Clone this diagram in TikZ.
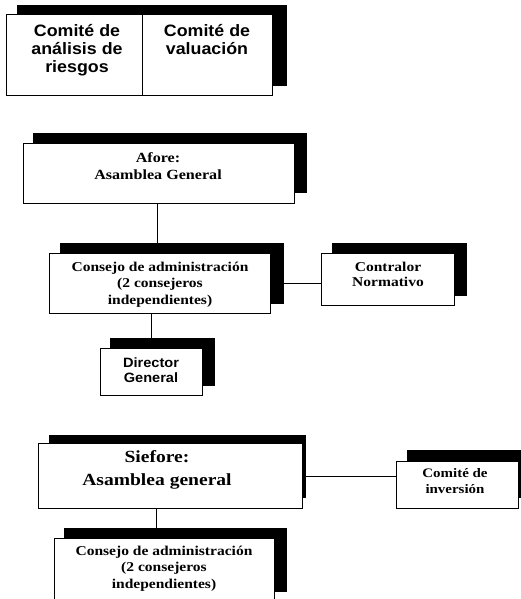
\documentclass[tikz,border=0pt]{standalone}
\usepackage{fontspec}
\setmainfont{Liberation Serif}
\newfontfamily\romanbold[FakeStretch=1.15]{Liberation Serif}
\newfontfamily\grotesk[FakeStretch=1.08]{Liberation Sans}
\usetikzlibrary{calc}
% centred block of lines whose reference point is the first baseline
\newcommand\stacklines[1]{\begin{tabular}[t]{@{}c@{}}#1\end{tabular}}
\newcommand\orgshadow[4]{\fill[black] (#1,#2) rectangle (#3,#4);}
\tikzset{
  orgbox/.style={draw=black, line width=0.8pt, fill=white, inner sep=0pt,
    anchor=north west},
  orgtext/.style={inner sep=0pt, anchor=base, text=black},
  link/.style={draw=black, line width=0.8pt},
  sanslabel/.style={orgtext, font=\grotesk\bfseries\fontsize{#1}{#1}\selectfont},
  seriflabel/.style={orgtext, font=\romanbold\bfseries\fontsize{#1}{#1}\selectfont},
}
\begin{document}
\begin{tikzpicture}[x=1pt, y=-1pt]
\useasboundingbox (0,0) rectangle (520,599);
\fill[white] (0,0) rectangle (520,599);

% committees
\orgshadow{17}{5}{287}{86}
\node[orgbox, minimum width=136, minimum height=81] (riesgos) at (6,14) {};
\node[orgbox, minimum width=130, minimum height=81] (valuacion) at (142,14) {};
\node[sanslabel=16.5] (riesgosT) at (77,37)
  {\fontsize{16.5}{18}\selectfont\stacklines{Comité de\\análisis de\\riesgos}};
\node[sanslabel=16.5] (valuacionT) at (207,37)
  {\fontsize{16.5}{18}\selectfont\stacklines{Comité de\\valuación}};

% Afore
\orgshadow{33}{133}{307}{193}
\node[orgbox, minimum width=271, minimum height=60] (afore) at (23,143) {};
\node[seriflabel=14] (aforeT) at (158,162)
  {\fontsize{14}{17}\selectfont\stacklines{Afore:\\Asamblea General}};

\orgshadow{60}{243}{284}{304}
\node[orgbox, minimum width=221, minimum height=60] (consejoA) at (49,253) {};
\node[seriflabel=13.5] (consejoAT) at (160,271)
  {\fontsize{13.5}{16.5}\selectfont\stacklines{Consejo de administración\\(2 consejeros\\independientes)}};

\orgshadow{332}{243}{467}{296}
\node[orgbox, minimum width=133, minimum height=52] (contralor) at (321,253) {};
\node[seriflabel=13.5] (contralorT) at (388,271)
  {\fontsize{13.5}{15}\selectfont\stacklines{Contralor\\Normativo}};

\orgshadow{110}{338}{215}{386}
\node[orgbox, minimum width=102, minimum height=47] (director) at (100,348) {};
\node[sanslabel=13.5] (directorT) at (151,367)
  {\fontsize{13.5}{15}\selectfont\stacklines{Director\\General}};

% Siefore
\orgshadow{49}{435}{306}{498}
\node[orgbox, minimum width=264, minimum height=65] (siefore) at (38,443) {};
\node[seriflabel=17] (sieforeT) at (157,462)
  {\fontsize{17}{23}\selectfont\stacklines{Siefore:\\Asamblea general}};

\orgshadow{407}{450}{530}{498}
\node[orgbox, minimum width=122, minimum height=47] (inversion) at (396,461) {};
\node[seriflabel=13] (inversionT) at (455,477)
  {\fontsize{13}{16}\selectfont\stacklines{Comité de\\inversión}};

\orgshadow{64}{528}{287}{592}
\node[orgbox, minimum width=220, minimum height=65] (consejoB) at (54,538) {};
\node[seriflabel=13.5] (consejoBT) at (164,555)
  {\fontsize{13.5}{16.5}\selectfont\stacklines{Consejo de administración\\(2 consejeros\\independientes)}};

% connectors
\draw[link] ($(afore.south)+(-1.5,0)$) coordinate (a1) -- (a1 |- consejoA.north);
\draw[link] (consejoA.east) -- (consejoA.east -| contralor.west);
\draw[link] ($(consejoA.south)+(-8.5,0)$) coordinate (c1) -- (c1 |- director.north);
\draw[link] (siefore.east) -- (siefore.east -| inversion.west);
\draw[link] ($(siefore.south)+(-14,0)$) coordinate (s1) -- (s1 |- consejoB.north);
\end{tikzpicture}
\end{document}
